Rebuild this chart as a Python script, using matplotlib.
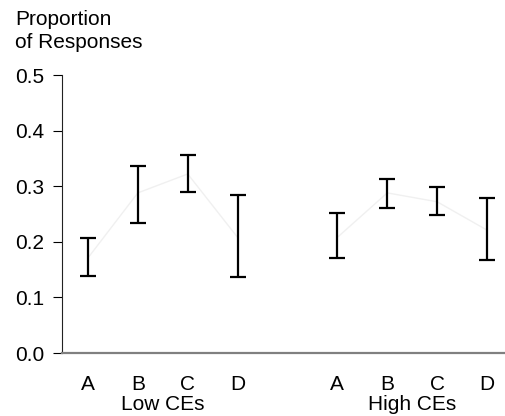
"""
Error bar chart: proportion of responses, Low vs High CEs
"""
import matplotlib
matplotlib.use('Agg')
import matplotlib.pyplot as plt

plt.rcParams['font.family'] = ['Liberation Sans', 'DejaVu Sans']

# Data
letters = ['A', 'B', 'C', 'D']
groups = ['Low CEs', 'High CEs']
low_mid = [0.171, 0.288, 0.322, 0.208]
low_top = [0.206, 0.336, 0.356, 0.284]
low_bot = [0.139, 0.233, 0.289, 0.136]
high_mid = [0.208, 0.288, 0.272, 0.221]
high_top = [0.252, 0.313, 0.299, 0.279]
high_bot = [0.170, 0.261, 0.249, 0.167]

low_x = [1, 2, 3, 4]
high_x = [6, 7, 8, 9]

fs = 15

fig = plt.figure(figsize=(5.05, 4.16), dpi=100)
ax = fig.add_axes([0.1218, 0.1514, 0.8782, 0.6683])

for xs, mid, top, bot in [(low_x, low_mid, low_top, low_bot),
                          (high_x, high_mid, high_top, high_bot)]:
    err = [[m - b for m, b in zip(mid, bot)], [t - m for t, m in zip(top, mid)]]
    ax.plot(xs, mid, color='#f0f0f0', lw=1, zorder=1)
    ax.errorbar(xs, mid, yerr=err, fmt='none', ecolor='black',
                elinewidth=1.6, capsize=6, capthick=1.6, zorder=2)

ax.set_xlim(0.47, 9.36)
ax.set_ylim(0, 0.5)
ax.set_yticks([0, 0.1, 0.2, 0.3, 0.4, 0.5])
ax.set_yticklabels(['0.0', '0.1', '0.2', '0.3', '0.4', '0.5'], fontsize=fs)
ax.tick_params(axis='y', direction='out', length=6.5, width=0.8, pad=6)

ax.set_xticks(low_x + high_x)
ax.set_xticklabels(letters + letters, fontsize=fs)
ax.tick_params(axis='x', length=0, pad=16)

ax.spines['top'].set_visible(False)
ax.spines['right'].set_visible(False)
ax.spines['left'].set_linewidth(0.8)
ax.spines['left'].set_color('#222222')
ax.spines['bottom'].set_color('#808080')
ax.spines['bottom'].set_linewidth(1.6)

# group labels
ax.text(2.5, -0.092, groups[0], ha='center', va='center', fontsize=fs)
ax.text(7.5, -0.092, groups[1], ha='center', va='center', fontsize=fs)

fig.text(15 / 505, 1 - 25 / 416, 'Proportion', ha='left', va='baseline', fontsize=fs)
fig.text(15 / 505, 1 - 48 / 416, 'of Responses', ha='left', va='baseline', fontsize=fs)

fig.savefig('out.png')
plt.close(fig)
